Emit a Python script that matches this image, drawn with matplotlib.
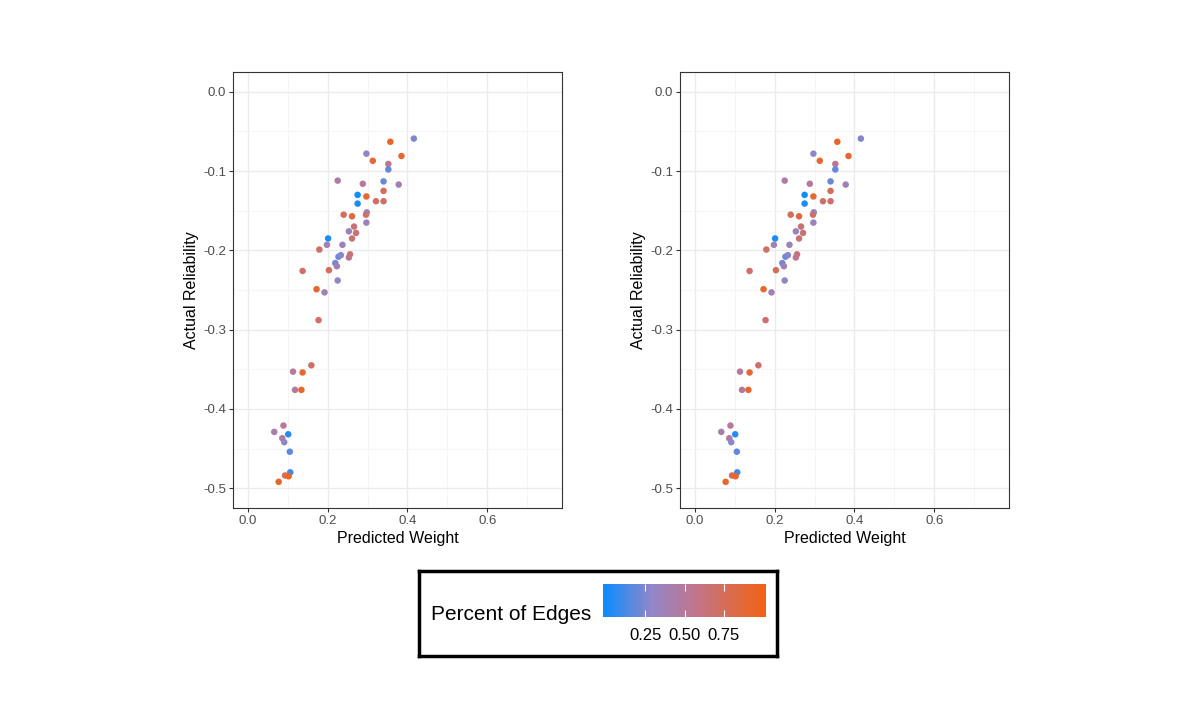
import matplotlib
matplotlib.use("Agg")
import matplotlib.pyplot as plt
from matplotlib.colors import LinearSegmentedColormap, Normalize
from matplotlib.cm import ScalarMappable

plt.rcParams["font.family"] = ["Liberation Sans", "DejaVu Sans"]

# values (same data in both panels)
predicted_weight = [0.416, 0.357, 0.297, 0.313, 0.385, 0.352, 0.352, 0.225, 0.288, 0.340,
                    0.378, 0.275, 0.340, 0.297, 0.321, 0.340, 0.275, 0.298, 0.296, 0.297,
                    0.240, 0.261, 0.266, 0.271, 0.253, 0.261, 0.201, 0.198, 0.237, 0.179,
                    0.227, 0.233, 0.256, 0.253, 0.219, 0.223, 0.137, 0.203, 0.225, 0.172,
                    0.192, 0.177, 0.159, 0.113, 0.137, 0.118, 0.134, 0.089, 0.066, 0.101,
                    0.086, 0.091, 0.105, 0.106, 0.093, 0.102, 0.077]
actual_reliability = [-0.059, -0.063, -0.078, -0.087, -0.081, -0.091, -0.098, -0.112, -0.116, -0.113,
                      -0.117, -0.130, -0.125, -0.132, -0.138, -0.138, -0.141, -0.152, -0.155, -0.165,
                      -0.155, -0.157, -0.170, -0.178, -0.176, -0.185, -0.185, -0.193, -0.193, -0.199,
                      -0.208, -0.206, -0.205, -0.209, -0.216, -0.220, -0.226, -0.225, -0.238, -0.249,
                      -0.253, -0.288, -0.345, -0.353, -0.354, -0.376, -0.376, -0.421, -0.429, -0.432,
                      -0.437, -0.442, -0.454, -0.480, -0.484, -0.485, -0.492]
percent_edges = [0.25, 0.95, 0.30, 0.90, 0.90, 0.55, 0.18, 0.45, 0.50, 0.20,
                 0.40, 0.00, 0.75, 0.90, 0.70, 0.70, 0.02, 0.30, 0.70, 0.35,
                 0.75, 0.85, 0.65, 0.65, 0.35, 0.65, 0.03, 0.38, 0.35, 0.70,
                 0.20, 0.27, 0.65, 0.55, 0.22, 0.40, 0.70, 0.75, 0.30, 0.92,
                 0.40, 0.70, 0.70, 0.50, 0.90, 0.50, 0.92, 0.50, 0.42, 0.05,
                 0.48, 0.28, 0.18, 0.10, 0.80, 0.92, 0.92]

x_ticks = [0.0, 0.2, 0.4, 0.6]
y_ticks = [0.0, -0.1, -0.2, -0.3, -0.4, -0.5]
cbar_ticks = [0.25, 0.50, 0.75]

cmap = LinearSegmentedColormap.from_list(
    "edges", [(0.0, "#0A8CFF"), (0.3, "#9286C8"), (0.55, "#BE7690"), (1.0, "#F26212")])
norm = Normalize(vmin=-0.02, vmax=1.02)

W, H = 1196, 725
fig = plt.figure(figsize=(W / 100, H / 100), dpi=100)


def panel(left):
    ax = fig.add_axes([left / W, (H - 508) / H, 329 / W, 436 / H])
    ax.set_facecolor("white")
    ax.set_xlim(-0.0375, 0.7875)
    ax.set_ylim(-0.525, 0.025)
    ax.set_xticks(x_ticks)
    ax.set_xticklabels(["%.1f" % v for v in x_ticks])
    ax.set_yticks(y_ticks)
    ax.set_yticklabels(["%.1f" % v for v in y_ticks])
    ax.set_xticks([0.1, 0.3, 0.5, 0.7], minor=True)
    ax.set_yticks([-0.05, -0.15, -0.25, -0.35, -0.45], minor=True)
    ax.grid(which="major", color="#EBEBEB", linewidth=1.0)
    ax.grid(which="minor", color="#F4F4F4", linewidth=0.6)
    ax.set_axisbelow(True)
    ax.tick_params(which="minor", length=0)
    ax.tick_params(which="major", length=3, color="#333333", labelsize=9.5,
                   labelcolor="#4D4D4D", pad=2)
    for s in ax.spines.values():
        s.set_color("#333333")
        s.set_linewidth(0.8)
    ax.scatter(predicted_weight, actual_reliability, c=percent_edges, cmap=cmap,
               norm=norm, s=22, linewidths=0, zorder=3)
    ax.set_xlabel("Predicted Weight", fontsize=11.5, labelpad=3)
    ax.set_ylabel("Actual Reliability", fontsize=11.5, labelpad=3)
    return ax


panel(233)
panel(680)

# legend box
lg = fig.add_axes([419 / W, (H - 656) / H, 358 / W, 85 / H])
lg.set_xticks([])
lg.set_yticks([])
for s in lg.spines.values():
    s.set_linewidth(2.5)
    s.set_color("black")
lg.text(12 / 358, 0.49, "Percent of Edges", fontsize=15, va="center", ha="left",
        transform=lg.transAxes)

cax = fig.add_axes([603 / W, (H - 617) / H, 163 / W, 33 / H])
sm = ScalarMappable(norm=norm, cmap=cmap)
cb = fig.colorbar(sm, cax=cax, orientation="horizontal", ticks=cbar_ticks)
cb.outline.set_visible(False)
cb.ax.set_xticklabels(["%.2f" % v for v in cbar_ticks])
cb.ax.tick_params(axis="x", direction="in", length=5, color="white", width=0.8,
                  labelsize=12, pad=8, top=True)

fig.savefig("out.png", dpi=100)
